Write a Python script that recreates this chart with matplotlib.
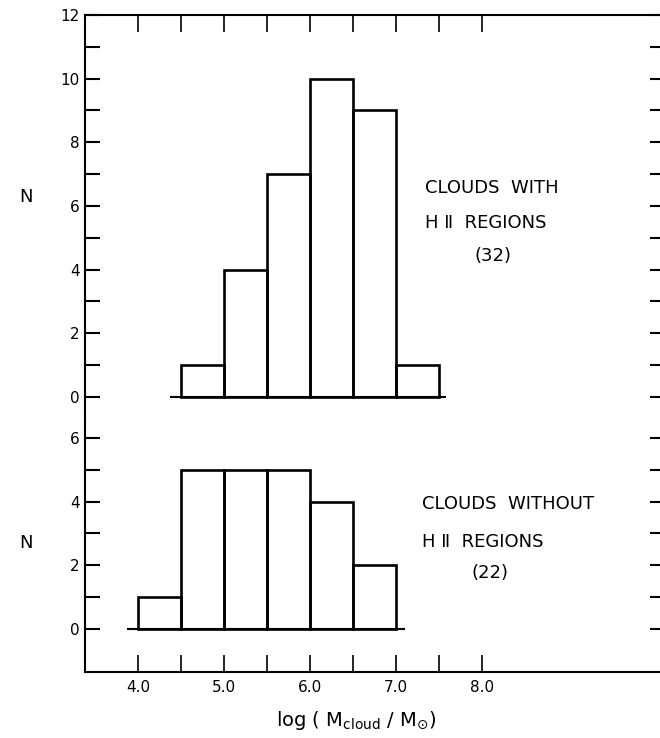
import matplotlib
matplotlib.use("Agg")
import matplotlib.pyplot as plt
import numpy as np
from matplotlib.ticker import MultipleLocator, FixedLocator, NullFormatter

plt.rcParams['font.family'] = ['DejaVu Sans', 'Noto Sans CJK JP']

# ---- data ----
with_edges = [4.5, 5.0, 5.5, 6.0, 6.5, 7.0]
with_counts = [1, 4, 7, 10, 9, 1]
without_edges = [4.0, 4.5, 5.0, 5.5, 6.0, 6.5]
without_counts = [1, 5, 5, 5, 4, 2]
bin_width = 0.5
x_major = [4.0, 5.0, 6.0, 7.0, 8.0]
x_minor = [4.5, 5.5, 6.5, 7.5]
x_labels = ["4.0", "5.0", "6.0", "7.0", "8.0"]
top_label = ["CLOUDS  WITH", "H Ⅱ  REGIONS", "(32)"]
bot_label = ["CLOUDS  WITHOUT", "H Ⅱ  REGIONS", "(22)"]

W, H = 660, 738
fig = plt.figure(figsize=(W / 100, H / 100), dpi=100)

def fx(p):
    return p / W

def fy(p):
    return 1 - p / H

left_px, right_px = 85, 665
top_px, mid_px, bot_px = 15, 418, 672
scale = 31.83  # px per count
xscale = 86.0  # px per dex
x0 = 4.0 - (138 - left_px) / xscale
x1 = 4.0 + (right_px - 138) / xscale

ax_top = fig.add_axes([fx(left_px), fy(mid_px), fx(right_px - left_px), (mid_px - top_px) / H])
ax_bot = fig.add_axes([fx(left_px), fy(bot_px), fx(right_px - left_px), (bot_px - mid_px) / H])

ax_top.set_ylim(-(mid_px - 397) / scale, 12)
ax_bot.set_ylim(-(bot_px - 629) / scale, 6 + (438 - mid_px) / scale)

lw_spine = 1.5
lw_bar = 1.9
for ax in (ax_top, ax_bot):
    ax.set_xlim(x0, x1)
    ax.patch.set_alpha(0)
    for s in ax.spines.values():
        s.set_linewidth(lw_spine)
    ax.yaxis.set_major_locator(MultipleLocator(2))
    ax.yaxis.set_minor_locator(MultipleLocator(1))
    ax.xaxis.set_major_locator(FixedLocator(x_major))
    ax.xaxis.set_minor_locator(FixedLocator(x_minor))
    ax.tick_params(axis='y', which='both', direction='in', length=11, width=lw_spine,
                   left=True, right=True, labelleft=True, labelright=False,
                   labelsize=11, pad=4)
    ax.tick_params(axis='x', which='both', direction='in', length=12.5, width=lw_spine - 0.3)
    ax.xaxis.set_minor_formatter(NullFormatter())

ax_top.spines['bottom'].set_visible(False)
ax_bot.spines['top'].set_visible(False)
ax_top.tick_params(axis='x', which='both', top=True, bottom=False, labelbottom=False, labeltop=False)
ax_bot.tick_params(axis='x', which='both', top=False, bottom=True, labelbottom=True, labelsize=11, pad=6)
ax_bot.set_xticklabels(x_labels)

# clip top-axes y ticks at the bottom range (only 0..12)
ax_top.yaxis.set_major_locator(FixedLocator([0, 2, 4, 6, 8, 10, 12]))
ax_top.yaxis.set_minor_locator(FixedLocator([1, 3, 5, 7, 9, 11]))
ax_bot.yaxis.set_major_locator(FixedLocator([0, 2, 4, 6]))
ax_bot.yaxis.set_minor_locator(FixedLocator([1, 3, 5]))

# histograms
ax_top.bar(with_edges, with_counts, width=bin_width, align='edge', fill=False,
           edgecolor='black', linewidth=lw_bar)
ax_top.hlines(0, with_edges[0] - 0.13, with_edges[-1] + bin_width + 0.08,
              color='black', linewidth=lw_bar * 0.8)
ax_bot.bar(without_edges, without_counts, width=bin_width, align='edge', fill=False,
           edgecolor='black', linewidth=lw_bar)
ax_bot.hlines(0, without_edges[0] - 0.13, without_edges[-1] + bin_width + 0.1,
              color='black', linewidth=lw_bar * 0.8)

# labels
fs_txt = 13
ax_top.text(7.34, 6.57, top_label[0], fontsize=fs_txt, ha='left', va='center')
ax_top.text(7.34, 5.47, top_label[1], fontsize=fs_txt, ha='left', va='center')
ax_top.text(8.13, 4.43, top_label[2], fontsize=fs_txt, ha='center', va='center')
ax_bot.text(7.30, 3.93, bot_label[0], fontsize=fs_txt, ha='left', va='center')
ax_bot.text(7.30, 2.73, bot_label[1], fontsize=fs_txt, ha='left', va='center')
ax_bot.text(8.09, 1.76, bot_label[2], fontsize=fs_txt, ha='center', va='center')

fig.text(fx(26), fy(197), "N", fontsize=13, ha='center', va='center')
fig.text(fx(26), fy(543), "N", fontsize=13, ha='center', va='center')

fig.text(fx(356), fy(721), r"log ( M$_{\rm cloud}$ / M$_{\odot}$)", fontsize=14,
         ha='center', va='center')

fig.savefig("out.png", dpi=100)
